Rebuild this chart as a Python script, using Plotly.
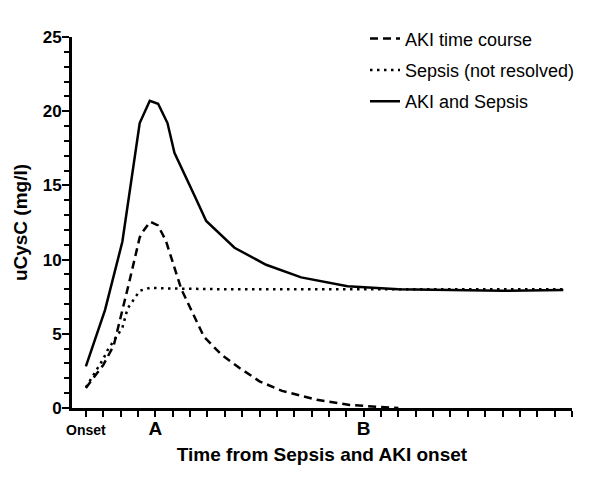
import plotly.graph_objects as go

# ---- data (x in tick units: 0 = onset, A = 4, B = 16) ----
aki_x = [0, 1.0, 1.6, 2.05, 2.5, 3.1, 3.35, 3.7, 4.15, 4.6, 5.5, 6.8, 7.8, 8.85, 10, 11.3, 13.3, 15.2, 16.9, 18]
aki_y = [1.35, 2.9, 4.2, 6.3, 8.5, 11.5, 12.0, 12.55, 12.3, 11.3, 8.0, 4.8, 3.6, 2.7, 1.8, 1.15, 0.55, 0.2, 0.05, 0]

sepsis_x = [0, 1.0, 1.25, 2.1, 2.4, 3.1, 3.7, 5, 8, 12, 16, 20, 24, 27.5]
sepsis_y = [1.4, 3.3, 3.9, 5.4, 6.7, 7.9, 8.1, 8.05, 8.0, 8.0, 8.0, 8.0, 8.0, 8.0]

both_x = [0, 1.1, 2.1, 2.6, 3.1, 3.68, 4.16, 4.7, 5.1, 6.3, 6.93, 8.56, 10.38, 12.4, 15.07, 18, 21, 24, 27.5]
both_y = [2.8, 6.6, 11.2, 15.3, 19.2, 20.7, 20.5, 19.2, 17.2, 14.2, 12.6, 10.8, 9.65, 8.8, 8.2, 8.0, 7.95, 7.9, 7.95]

names = ["AKI time course", "Sepsis (not resolved)", "AKI and Sepsis"]

x_tick_vals = list(range(0, 29))
x_tick_labels = {0: '<span style="font-size:14px">Onset</span>', 4: "A", 16: "B"}

FONT = "Liberation Sans, Arial, sans-serif"

fig = go.Figure()
fig.add_trace(go.Scatter(x=aki_x, y=aki_y, mode="lines", name=names[0], legendgroup="g1",
                         line=dict(color="black", width=2.5, dash="8px,5px")))
fig.add_trace(go.Scatter(x=sepsis_x, y=sepsis_y, mode="lines", name=names[1], legendgroup="g2",
                         line=dict(color="black", width=2.5, dash="2.5px,4.5px")))
fig.add_trace(go.Scatter(x=both_x, y=both_y, mode="lines", name=names[2], legendgroup="g3",
                         line=dict(color="black", width=2.5)))

# page body has an 8px default margin, so the figure is sized to fit the window
fig.update_layout(
    width=592, height=473,
    paper_bgcolor="white", plot_bgcolor="white",
    margin=dict(l=64, r=28, t=27, b=73),
    font=dict(family=FONT, color="black"),
    showlegend=True,
    legend=dict(x=293 / 500, y=1.045, xanchor="left", yanchor="top",
                font=dict(size=18, family=FONT), bgcolor="rgba(0,0,0,0)",
                itemwidth=30, traceorder="grouped", tracegroupgap=5),
    xaxis=dict(range=[-0.8, 28], showline=True, linewidth=3, linecolor="black",
               showgrid=False, zeroline=False, automargin=False,
               tickmode="array", tickvals=x_tick_vals,
               ticktext=[x_tick_labels.get(v, "") for v in x_tick_vals],
               ticks="outside", ticklen=6, tickwidth=2, tickcolor="black",
               ticklabelstandoff=-5,
               tickfont=dict(size=19, family=FONT, weight="bold"),
               title=dict(text="Time from Sepsis and AKI onset",
                          font=dict(size=19, family=FONT, weight="bold"), standoff=10)),
    yaxis=dict(range=[0, 25], showline=True, linewidth=3, linecolor="black",
               showgrid=False, zeroline=False, automargin=False,
               tickmode="linear", tick0=0, dtick=5,
               ticks="outside", ticklen=7, tickwidth=2, tickcolor="black",
               ticklabelstandoff=-3,
               tickfont=dict(size=17, family=FONT, weight="bold"),
               minor=dict(dtick=1, ticks="outside", ticklen=5, tickwidth=2, tickcolor="black"),
               title=dict(text="uCysC (mg/l)",
                          font=dict(size=19, family=FONT, weight="bold"), standoff=11)),
)

fig.write_html("out.html")
